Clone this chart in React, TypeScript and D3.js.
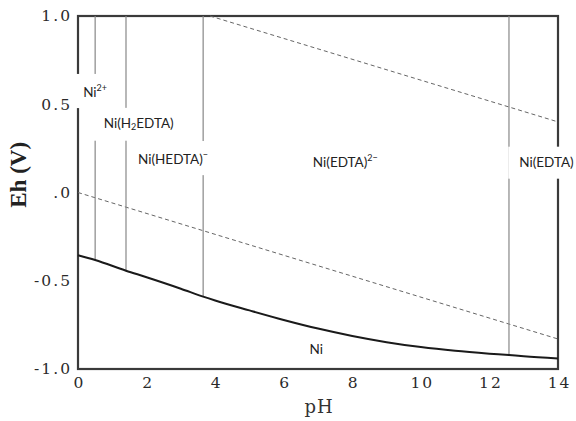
import { useEffect, useRef } from "react"
import * as d3 from "d3"

// x ticks (pH) and y ticks (Eh) with the labels as printed
const phTicks = [0, 2, 4, 6, 8, 10, 12, 14]
const ehTicks = [1.0, 0.5, 0, -0.5, -1.0]
const ehTickLabels = ["1.0", "0.5", ".0", "-0.5", "-1.0"]

// Ni / Ni-complex boundary (solid curve)
const niPh = [0, 0.5, 1.4, 2, 3, 3.65, 4, 5, 6, 7, 8, 9, 10, 11, 12, 12.57, 13, 14]
const niEh = [-0.355, -0.382, -0.443, -0.48, -0.545, -0.59, -0.612, -0.668, -0.722, -0.771, -0.813, -0.848, -0.876, -0.897, -0.913, -0.921, -0.928, -0.94]

// water stability limits (dashed)
const o2Ph = [3.85, 14]
const o2Eh = [1.0, 0.4]
const h2Ph = [0, 14]
const h2Eh = [0.0, -0.83]

// vertical boundaries between complexes (pH)
const boundaryPh = [0.5, 1.4, 3.65, 12.57]

// region labels: position + text pieces (plain / sub / sup)
const regionLabels = [
  { ph: 0.15, eh: 0.56, parts: [["Ni", ""], ["2+", "sup"]] },
  { ph: 0.75, eh: 0.38, parts: [["Ni(H", ""], ["2", "sub"], ["EDTA)", ""]] },
  { ph: 1.75, eh: 0.18, parts: [["Ni(HEDTA)", ""], ["\u2212", "sup"]] },
  { ph: 6.85, eh: 0.16, parts: [["Ni(EDTA)", ""], ["2\u2212", "sup"]] },
  { ph: 12.87, eh: 0.16, parts: [["Ni(EDTA)", ""]] },
  { ph: 6.75, eh: -0.9, parts: [["Ni", ""]] },
]

export default function App() {
  const svgRef = useRef<SVGSVGElement>(null)

  useEffect(() => {
    if (!svgRef.current) return
    const root = d3.select(svgRef.current)
    root.selectAll("*").remove()

    const W = 576
    const H = 421
    const margin = { top: 16, right: 18, bottom: 52, left: 78 }
    const width = W - margin.left - margin.right
    const height = H - margin.top - margin.bottom

    const svg = root.attr("width", W).attr("height", H)
    const g = svg.append("g").attr("transform", `translate(${margin.left},${margin.top})`)

    const x = d3.scaleLinear().domain([0, 14]).range([0, width])
    const y = d3.scaleLinear().domain([-1, 1]).range([height, 0])

    // frame
    g.append("rect")
      .attr("width", width)
      .attr("height", height)
      .attr("fill", "none")
      .attr("stroke", "#3a3a3a")
      .attr("stroke-width", 2.2)

    // dashed water lines
    const line = d3.line<[number, number]>().x((d) => x(d[0])).y((d) => y(d[1]))
    ;[[o2Ph, o2Eh], [h2Ph, h2Eh]].forEach(([ps, es]) => {
      g.append("path")
        .attr("d", line(ps.map((p, i) => [p, es[i]] as [number, number])))
        .attr("fill", "none")
        .attr("stroke", "#666")
        .attr("stroke-width", 1)
        .attr("stroke-dasharray", "4,3")
    })

    // vertical boundaries, from top down to the Ni curve
    const niAt = d3.scaleLinear().domain(niPh).range(niEh)
    g.selectAll(".vb")
      .data(boundaryPh)
      .enter()
      .append("line")
      .attr("x1", (d) => x(d))
      .attr("x2", (d) => x(d))
      .attr("y1", y(1))
      .attr("y2", (d) => y(niAt(d)))
      .attr("stroke", "#888")
      .attr("stroke-width", 1.2)

    // Ni curve
    g.append("path")
      .attr("d", d3.line<number>().x((d) => x(d)).y((_, i) => y(niEh[i])).curve(d3.curveMonotoneX)(niPh))
      .attr("fill", "none")
      .attr("stroke", "#1a1a1a")
      .attr("stroke-width", 2)

    // region labels with white backing
    regionLabels.forEach((lab) => {
      const lg = g.append("g")
      const t = lg.append("text")
        .attr("x", x(lab.ph))
        .attr("y", y(lab.eh))
        .attr("dominant-baseline", "middle")
        .style("font-family", "Lato, 'Open Sans', sans-serif")
        .style("font-size", "13.5px")
        .attr("fill", "#222")
      lab.parts.forEach(([s, kind]) => {
        const ts = t.append("tspan").text(s)
        if (kind === "sup") ts.style("font-size", "9px").attr("dy", -5)
        if (kind === "sub") ts.style("font-size", "9px").attr("dy", 3)
        if (kind === "" && ts.node()!.previousSibling) {
          const prev = ts.node()!.previousSibling as SVGTSpanElement
          if (prev.getAttribute("dy") === "3") ts.attr("dy", -3)
        }
      })
      const bb = (t.node() as SVGTextElement).getBBox()
      lg.insert("rect", "text")
        .attr("x", bb.x - 11)
        .attr("y", bb.y - 8)
        .attr("width", bb.width + 22)
        .attr("height", bb.height + 16)
        .attr("fill", "white")
    })

    // axes
    const tickFont = (sel: any) =>
      sel.selectAll("text")
        .attr("fill", "#2a2a2a")
        .style("font-family", "'DejaVu Serif', serif")
        .style("font-size", "15.5px")
        .style("letter-spacing", "2px")

    const xAxis = g.append("g")
      .attr("transform", `translate(0,${height})`)
      .call(d3.axisBottom(x).tickValues(phTicks).tickSize(0).tickPadding(8).tickFormat((d) => String(d)))
    xAxis.select(".domain").remove()
    tickFont(xAxis)
    xAxis.selectAll("text").attr("dx", "1px")

    const yAxis = g.append("g")
      .call(d3.axisLeft(y).tickValues(ehTicks).tickSize(0).tickPadding(6)
        .tickFormat((_, i) => ehTickLabels[i]))
    yAxis.select(".domain").remove()
    tickFont(yAxis)

    // axis titles
    svg.append("text")
      .attr("x", margin.left + x(7) + 1)
      .attr("y", 413)
      .attr("text-anchor", "middle")
      .attr("fill", "#333")
      .style("font-family", "'DejaVu Serif', serif")
      .style("font-size", "18px")
      .style("letter-spacing", "1px")
      .text("pH")

    svg.append("text")
      .attr("transform", `translate(26,${margin.top + y(0.1)}) rotate(-90)`)
      .attr("text-anchor", "middle")
      .attr("fill", "#222")
      .style("font-family", "'Liberation Serif', serif")
      .style("font-weight", "bold")
      .style("font-size", "23px")
      .text("Eh (V)")
  }, [])

  return (
    <svg ref={svgRef} width={576} height={421} style={{ position: "absolute", left: 0, top: 0, background: "white" }} />
  )
}
